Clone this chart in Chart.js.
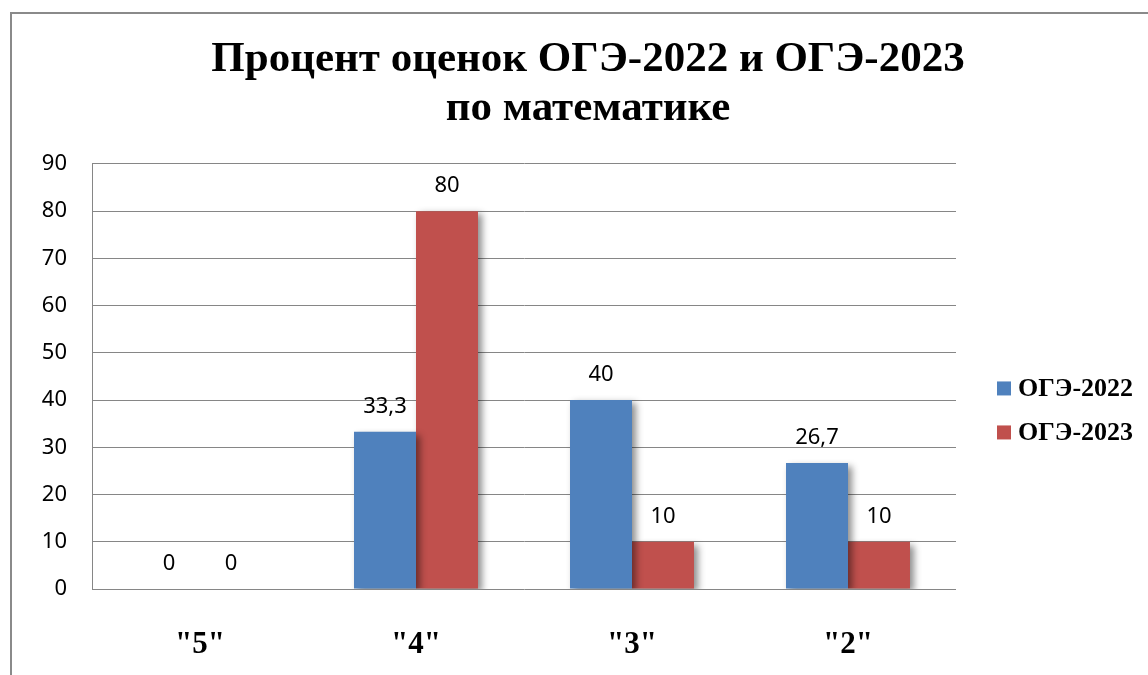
<!DOCTYPE html>
<html>
<head>
<meta charset="utf-8">
<script src="https://cdn.jsdelivr.net/npm/chart.js@4/dist/chart.umd.min.js"></script>
<style>
  html, body { margin: 0; padding: 0; background: #fff; overflow: hidden; }
  #frame { position: absolute; left: 10px; top: 12px; width: 1200px; height: 700px; border: 2px solid #8a8a8a; }
  #myChart { position: absolute; left: 0; top: 0; }
</style>
</head>
<body>
<div id="frame"><canvas id="myChart" width="1152" height="661"></canvas></div>
<script>
// grades and percentages
const grades = ['"5"', '"4"', '"3"', '"2"'];
const oge2022 = [0, 33.3, 40, 26.7];
const oge2023 = [0, 80, 10, 10];
const seriesNames = ['ОГЭ-2022', 'ОГЭ-2023'];
const titleLines = ['Процент оценок ОГЭ-2022 и ОГЭ-2023', 'по математике'];

const blue = '#4f81bd';
const red = '#c0504d';
const gridGray = '#868686';

// shadow under bars + value labels on top
const barExtras = {
  id: 'barExtras',
  beforeDatasetsDraw(chart) {
    const ctx = chart.ctx;
    ctx.save();
    ctx.shadowColor = 'rgba(0,0,0,0.45)';
    ctx.shadowBlur = 7;
    ctx.shadowOffsetX = 4;
    ctx.shadowOffsetY = 3;
  },
  afterDatasetsDraw(chart) {
    const ctx = chart.ctx;
    ctx.restore();
    ctx.save();
    ctx.font = '22px "Noto Sans"';
    ctx.fillStyle = '#000';
    ctx.textAlign = 'center';
    ctx.textBaseline = 'middle';
    chart.data.datasets.forEach((ds, i) => {
      const meta = chart.getDatasetMeta(i);
      meta.data.forEach((bar, j) => {
        const txt = String(ds.data[j]).replace('.', ',');
        ctx.fillText(txt, bar.x, bar.y - 25);
      });
    });
    ctx.restore();
  }
};

// legend on the right side, next to the plot
const sideLegend = {
  id: 'sideLegend',
  afterDraw(chart) {
    const ctx = chart.ctx;
    const ca = chart.chartArea;
    const mid = (ca.top + ca.bottom) / 2 + 34;
    ctx.save();
    ctx.font = 'bold 26px "Liberation Serif"';
    ctx.textBaseline = 'middle';
    ctx.textAlign = 'left';
    chart.data.datasets.forEach((ds, i) => {
      const y = mid + (i - 0.5) * 44;
      ctx.fillStyle = ds.backgroundColor;
      ctx.fillRect(ca.right + 41, y - 7, 14, 14);
      ctx.fillStyle = '#000';
      ctx.fillText(ds.label, ca.right + 62, y + 1);
    });
    ctx.restore();
  }
};

const ctx = document.getElementById('myChart');

new Chart(ctx, {
  type: 'bar',
  data: {
    labels: grades,
    datasets: [
      { label: seriesNames[0], data: oge2022, backgroundColor: blue },
      { label: seriesNames[1], data: oge2023, backgroundColor: red }
    ]
  },
  options: {
    responsive: false,
    animation: false,
    devicePixelRatio: 1,
    categoryPercentage: 0.574,
    barPercentage: 1,
    layout: { padding: 0 },
    plugins: {
      legend: { display: false },
      tooltip: { enabled: false },
      title: {
        display: true,
        text: titleLines,
        color: '#000',
        font: { family: '"Liberation Serif"', size: 43, weight: 'bold', lineHeight: 1.15 },
        padding: { top: 21, bottom: 30 }
      }
    },
    scales: {
      x: {
        grid: { display: false },
        border: { display: false },
        ticks: {
          color: '#000',
          padding: 29,
          font: { family: '"Liberation Serif"', size: 31, weight: 'bold' }
        },
        afterFit(scale) { scale.height = 86; }
      },
      y: {
        min: 0,
        max: 90,
        ticks: {
          stepSize: 10,
          color: '#000',
          padding: 25,
          font: { family: '"Noto Sans"', size: 22 }
        },
        grid: { color: gridGray, lineWidth: 1, drawTicks: false },
        border: { display: true, color: gridGray, width: 1 },
        afterFit(scale) { scale.width = 80; }
      },
      // empty right axis only keeps room for the legend
      side: {
        position: 'right',
        min: 0,
        max: 1,
        grid: { display: false, drawTicks: false },
        border: { display: false },
        ticks: { display: false },
        afterFit(scale) { scale.width = 208; }
      }
    }
  },
  plugins: [barExtras, sideLegend]
});
</script>
</body>
</html>
